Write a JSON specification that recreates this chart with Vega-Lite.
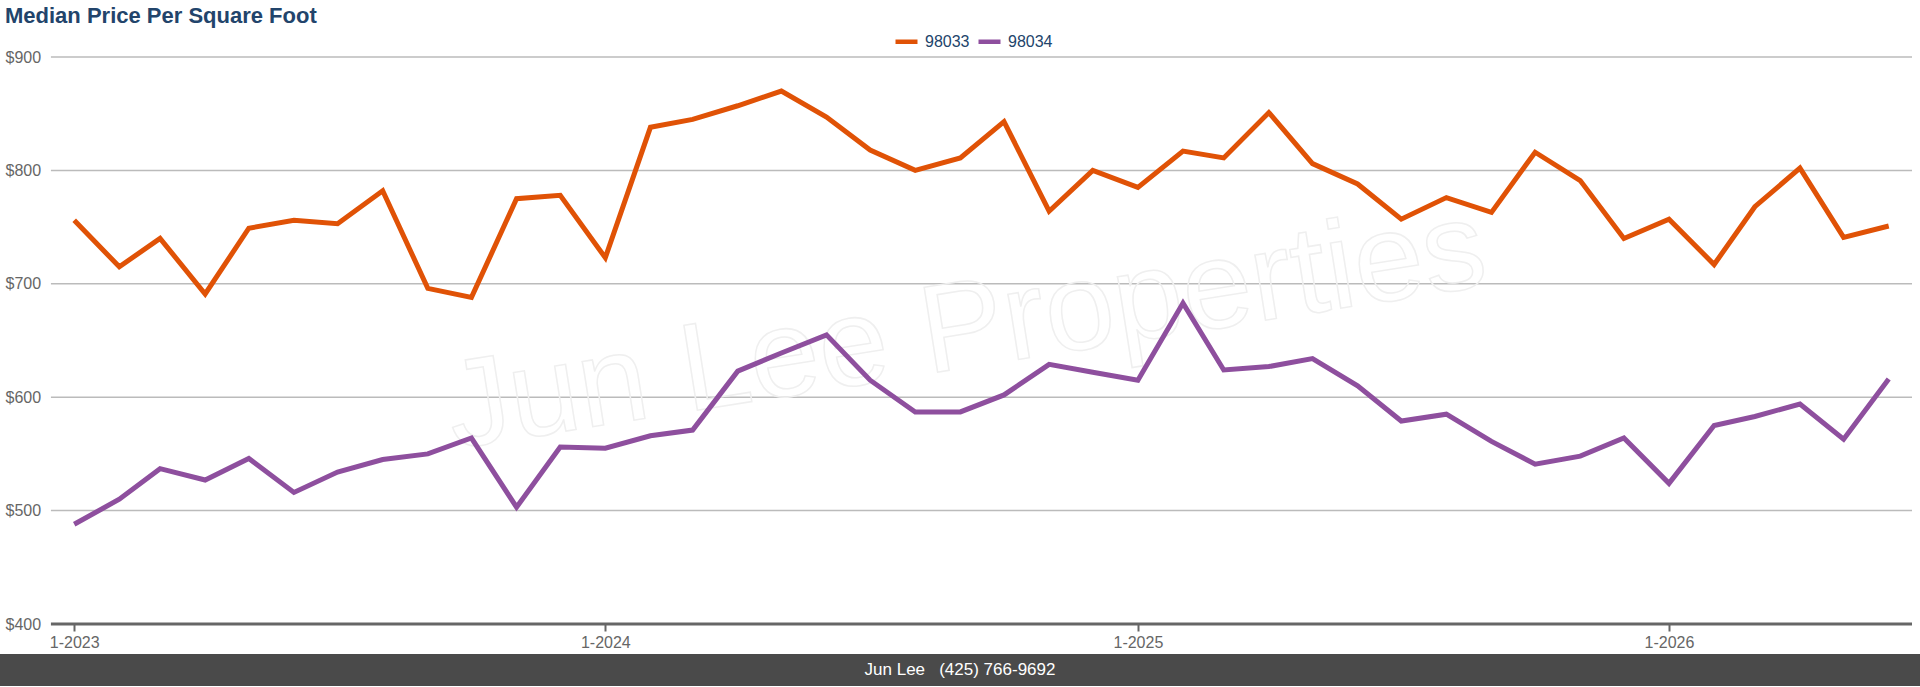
{
  "$schema": "https://vega.github.io/schema/vega-lite/v6.json",
  "background": "white",
  "padding": {"top": 5, "left": 0, "right": 0, "bottom": 0},
  "title": {
    "text": "Median Price Per Square Foot",
    "anchor": "start",
    "dx": 5,
    "font": "Liberation Sans",
    "fontSize": 22,
    "fontWeight": "bold",
    "color": "#22446b",
    "offset": 0
  },
  "config": {
    "font": "Liberation Sans",
    "view": {"stroke": null},
    "axis": {"labelFont": "Liberation Sans", "labelFontSize": 16, "labelColor": "#666666", "title": null}
  },
  "spacing": 4,
  "vconcat": [
    {
      "width": 1912,
      "height": 567,
      "layer": [
        {
          "data": {"values": [{"level": 500}, {"level": 600}, {"level": 700}, {"level": 800}, {"level": 900}]},
          "mark": {"type": "rule", "color": "#bbbbbb", "strokeWidth": 1.5},
          "encoding": {
            "x": {"datum": {"year": 2022, "month": 12, "date": 16}, "type": "temporal"},
            "x2": {"datum": {"year": 2026, "month": 6, "date": 17}},
            "y": {"field": "level", "type": "quantitative"}
          }
        },
        {
          "data": {"values": [{"label": "Jun Lee Properties"}]},
          "mark": {"type": "text", "fontSize": 125, "angle": -9, "fillOpacity": 0, "stroke": "#efefef", "strokeWidth": 1.5, "align": "center", "baseline": "middle"},
          "encoding": {
            "x": {"datum": {"year": 2024, "month": 9, "date": 5}, "type": "temporal"},
            "y": {"datum": 660, "type": "quantitative"},
            "text": {"field": "label"}
          }
        },
        {
          "data": {
            "values": [
              {"date": "2023-01-01T00:00", "zip": "98033", "price": 756},
              {"date": "2023-02-01T00:00", "zip": "98033", "price": 715},
              {"date": "2023-03-01T00:00", "zip": "98033", "price": 740},
              {"date": "2023-04-01T00:00", "zip": "98033", "price": 691},
              {"date": "2023-05-01T00:00", "zip": "98033", "price": 749},
              {"date": "2023-06-01T00:00", "zip": "98033", "price": 756},
              {"date": "2023-07-01T00:00", "zip": "98033", "price": 753},
              {"date": "2023-08-01T00:00", "zip": "98033", "price": 782},
              {"date": "2023-09-01T00:00", "zip": "98033", "price": 696},
              {"date": "2023-10-01T00:00", "zip": "98033", "price": 688},
              {"date": "2023-11-01T00:00", "zip": "98033", "price": 775},
              {"date": "2023-12-01T00:00", "zip": "98033", "price": 778},
              {"date": "2024-01-01T00:00", "zip": "98033", "price": 723},
              {"date": "2024-02-01T00:00", "zip": "98033", "price": 838},
              {"date": "2024-03-01T00:00", "zip": "98033", "price": 845},
              {"date": "2024-04-01T00:00", "zip": "98033", "price": 857},
              {"date": "2024-05-01T00:00", "zip": "98033", "price": 870},
              {"date": "2024-06-01T00:00", "zip": "98033", "price": 847},
              {"date": "2024-07-01T00:00", "zip": "98033", "price": 818},
              {"date": "2024-08-01T00:00", "zip": "98033", "price": 800},
              {"date": "2024-09-01T00:00", "zip": "98033", "price": 811},
              {"date": "2024-10-01T00:00", "zip": "98033", "price": 843},
              {"date": "2024-11-01T00:00", "zip": "98033", "price": 764},
              {"date": "2024-12-01T00:00", "zip": "98033", "price": 800},
              {"date": "2025-01-01T00:00", "zip": "98033", "price": 785},
              {"date": "2025-02-01T00:00", "zip": "98033", "price": 817},
              {"date": "2025-03-01T00:00", "zip": "98033", "price": 811},
              {"date": "2025-04-01T00:00", "zip": "98033", "price": 851},
              {"date": "2025-05-01T00:00", "zip": "98033", "price": 806},
              {"date": "2025-06-01T00:00", "zip": "98033", "price": 788},
              {"date": "2025-07-01T00:00", "zip": "98033", "price": 757},
              {"date": "2025-08-01T00:00", "zip": "98033", "price": 776},
              {"date": "2025-09-01T00:00", "zip": "98033", "price": 763},
              {"date": "2025-10-01T00:00", "zip": "98033", "price": 816},
              {"date": "2025-11-01T00:00", "zip": "98033", "price": 791},
              {"date": "2025-12-01T00:00", "zip": "98033", "price": 740},
              {"date": "2026-01-01T00:00", "zip": "98033", "price": 757},
              {"date": "2026-02-01T00:00", "zip": "98033", "price": 717},
              {"date": "2026-03-01T00:00", "zip": "98033", "price": 768},
              {"date": "2026-04-01T00:00", "zip": "98033", "price": 802},
              {"date": "2026-05-01T00:00", "zip": "98033", "price": 741},
              {"date": "2026-06-01T00:00", "zip": "98033", "price": 751},
              {"date": "2023-01-01T00:00", "zip": "98034", "price": 488},
              {"date": "2023-02-01T00:00", "zip": "98034", "price": 510},
              {"date": "2023-03-01T00:00", "zip": "98034", "price": 537},
              {"date": "2023-04-01T00:00", "zip": "98034", "price": 527},
              {"date": "2023-05-01T00:00", "zip": "98034", "price": 546},
              {"date": "2023-06-01T00:00", "zip": "98034", "price": 516},
              {"date": "2023-07-01T00:00", "zip": "98034", "price": 534},
              {"date": "2023-08-01T00:00", "zip": "98034", "price": 545},
              {"date": "2023-09-01T00:00", "zip": "98034", "price": 550},
              {"date": "2023-10-01T00:00", "zip": "98034", "price": 564},
              {"date": "2023-11-01T00:00", "zip": "98034", "price": 503},
              {"date": "2023-12-01T00:00", "zip": "98034", "price": 556},
              {"date": "2024-01-01T00:00", "zip": "98034", "price": 555},
              {"date": "2024-02-01T00:00", "zip": "98034", "price": 566},
              {"date": "2024-03-01T00:00", "zip": "98034", "price": 571},
              {"date": "2024-04-01T00:00", "zip": "98034", "price": 623},
              {"date": "2024-05-01T00:00", "zip": "98034", "price": 639},
              {"date": "2024-06-01T00:00", "zip": "98034", "price": 655},
              {"date": "2024-07-01T00:00", "zip": "98034", "price": 615},
              {"date": "2024-08-01T00:00", "zip": "98034", "price": 587},
              {"date": "2024-09-01T00:00", "zip": "98034", "price": 587},
              {"date": "2024-10-01T00:00", "zip": "98034", "price": 602},
              {"date": "2024-11-01T00:00", "zip": "98034", "price": 629},
              {"date": "2024-12-01T00:00", "zip": "98034", "price": 622},
              {"date": "2025-01-01T00:00", "zip": "98034", "price": 615},
              {"date": "2025-02-01T00:00", "zip": "98034", "price": 683},
              {"date": "2025-03-01T00:00", "zip": "98034", "price": 624},
              {"date": "2025-04-01T00:00", "zip": "98034", "price": 627},
              {"date": "2025-05-01T00:00", "zip": "98034", "price": 634},
              {"date": "2025-06-01T00:00", "zip": "98034", "price": 610},
              {"date": "2025-07-01T00:00", "zip": "98034", "price": 579},
              {"date": "2025-08-01T00:00", "zip": "98034", "price": 585},
              {"date": "2025-09-01T00:00", "zip": "98034", "price": 561},
              {"date": "2025-10-01T00:00", "zip": "98034", "price": 541},
              {"date": "2025-11-01T00:00", "zip": "98034", "price": 548},
              {"date": "2025-12-01T00:00", "zip": "98034", "price": 564},
              {"date": "2026-01-01T00:00", "zip": "98034", "price": 524},
              {"date": "2026-02-01T00:00", "zip": "98034", "price": 575},
              {"date": "2026-03-01T00:00", "zip": "98034", "price": 583},
              {"date": "2026-04-01T00:00", "zip": "98034", "price": 594},
              {"date": "2026-05-01T00:00", "zip": "98034", "price": 563},
              {"date": "2026-06-01T00:00", "zip": "98034", "price": 616}
            ]
          },
          "mark": {"type": "line", "strokeWidth": 5},
          "encoding": {
            "x": {
              "field": "date",
              "type": "temporal",
              "scale": {
                "domain": [{"year": 2022, "month": 11, "date": 11}, {"year": 2026, "month": 6, "date": 17}],
                "nice": false
              },
              "axis": {
                "values": [
                  {"year": 2023, "month": 1, "date": 1},
                  {"year": 2024, "month": 1, "date": 1},
                  {"year": 2025, "month": 1, "date": 1},
                  {"year": 2026, "month": 1, "date": 1}
                ],
                "format": "%-m-%Y",
                "grid": false,
                "domain": false,
                "tickColor": "#666666",
                "tickWidth": 2,
                "tickSize": 7,
                "labelPadding": 3
              }
            },
            "y": {
              "field": "price",
              "type": "quantitative",
              "scale": {"domain": [400, 900], "nice": false, "zero": false},
              "axis": {
                "values": [400, 500, 600, 700, 800, 900],
                "format": "$,.0f",
                "domain": false,
                "ticks": false,
                "grid": false,
                "labelAlign": "left",
                "labelPadding": -5
              }
            },
            "color": {
              "field": "zip",
              "type": "nominal",
              "scale": {"domain": ["98033", "98034"], "range": ["#e05206", "#8e4f9e"]},
              "legend": {
                "title": null,
                "orient": "none",
                "direction": "horizontal",
                "legendX": 893,
                "legendY": -29,
                "symbolType": "stroke",
                "symbolStrokeWidth": 4.5,
                "symbolSize": 484,
                "labelFontSize": 16,
                "labelColor": "#22446b",
                "labelOffset": 5,
                "columnPadding": -1,
                "padding": 0
              }
            }
          }
        },
        {
          "data": {"values": [{"level": 400}]},
          "mark": {"type": "rule", "color": "#666666", "strokeWidth": 3},
          "encoding": {
            "x": {"datum": {"year": 2022, "month": 12, "date": 16}, "type": "temporal"},
            "x2": {"datum": {"year": 2026, "month": 6, "date": 17}},
            "y": {"field": "level", "type": "quantitative"}
          }
        }
      ]
    },
    {
      "width": 1920,
      "height": 32,
      "view": {"fill": "#4a4a4a", "stroke": null},
      "data": {"values": [{"line": "Jun Lee\u00a0\u00a0 (425) 766-9692"}]},
      "mark": {"type": "text", "color": "#ffffff", "fontSize": 17, "font": "Liberation Sans"},
      "encoding": {"text": {"field": "line", "type": "nominal"}}
    }
  ]
}
